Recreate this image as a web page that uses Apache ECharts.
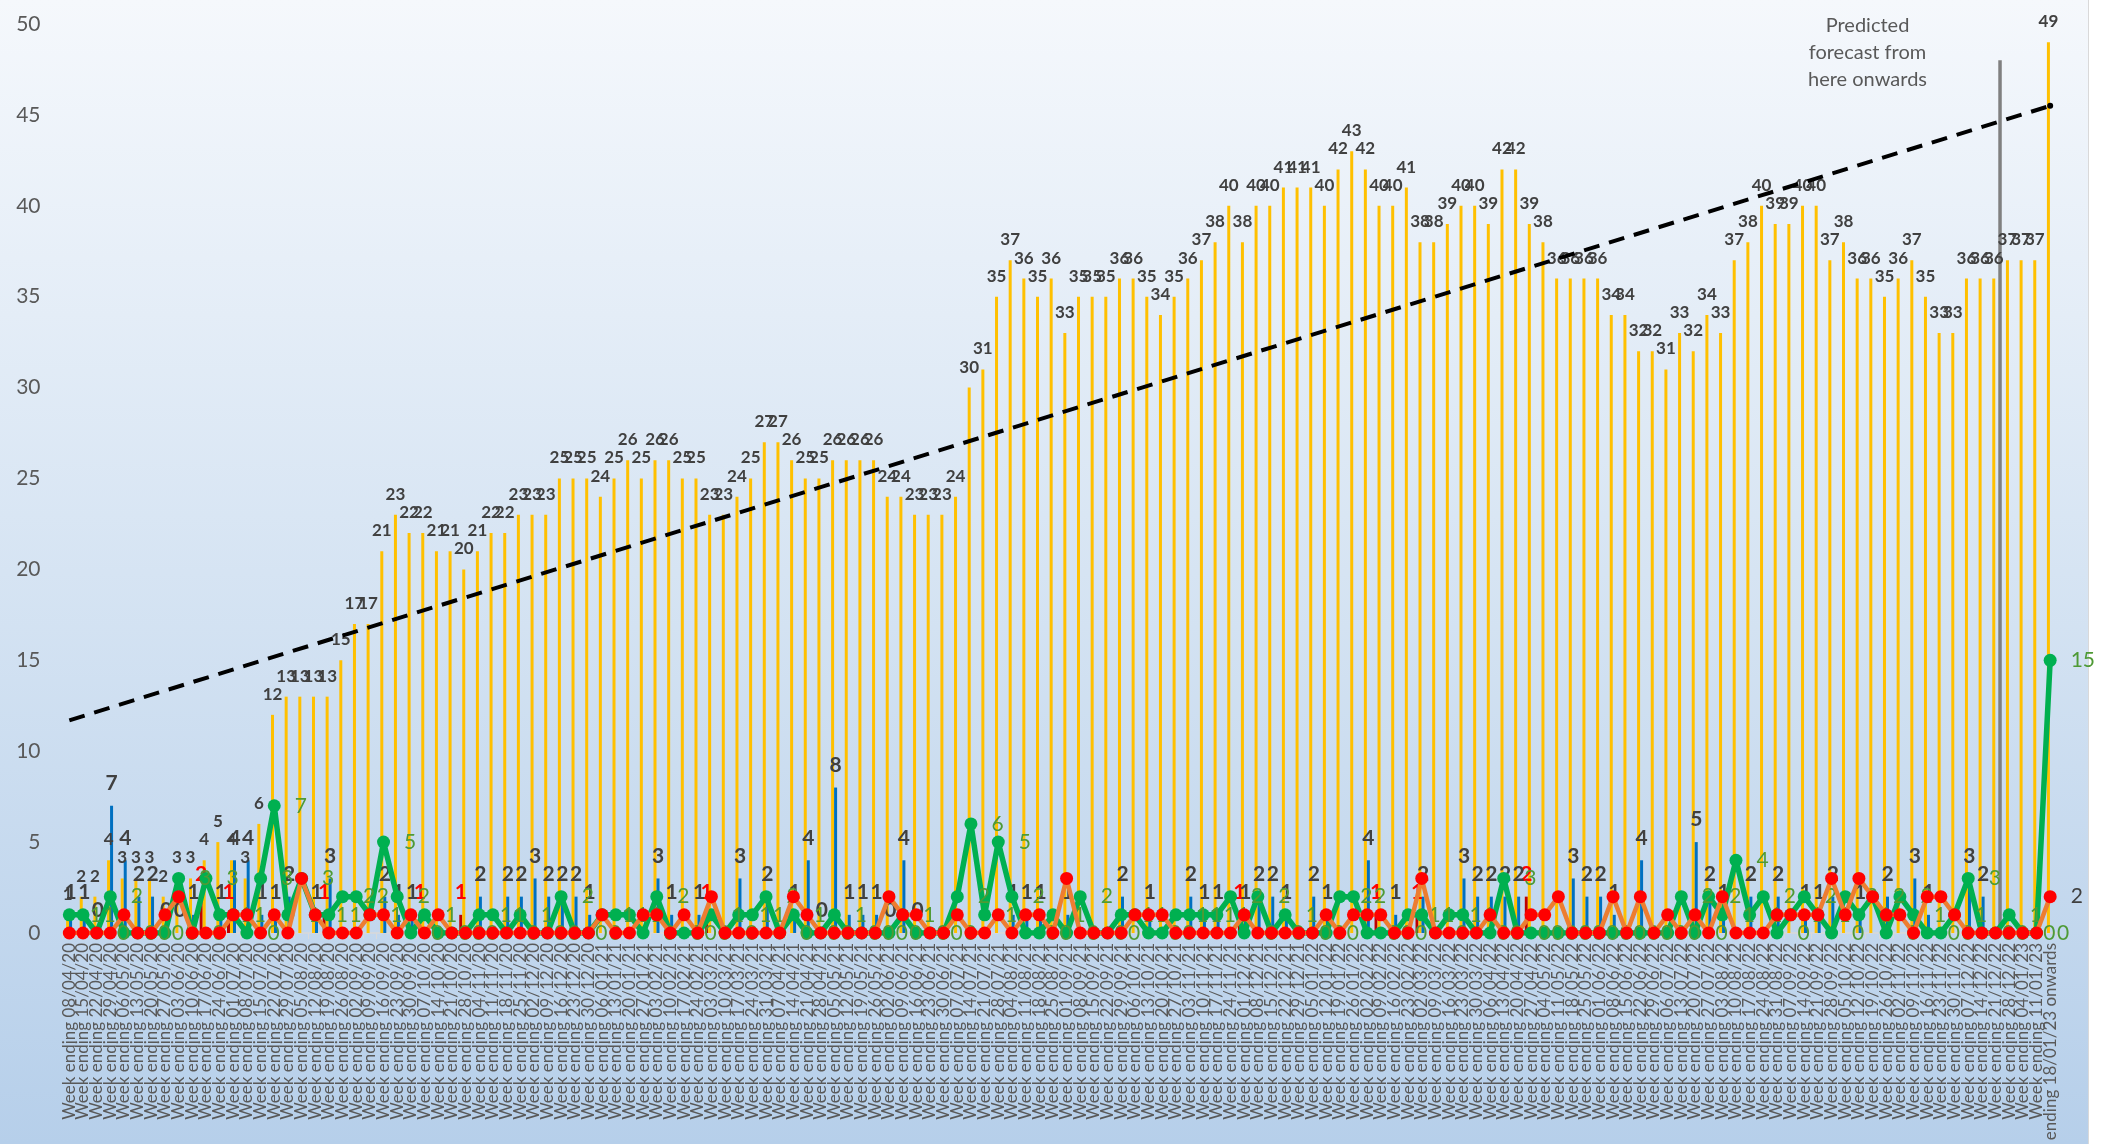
<!DOCTYPE html>
<html><head><meta charset="utf-8">
<script src="https://cdn.jsdelivr.net/npm/echarts/dist/echarts.min.js"></script>
<style>html,body{margin:0;padding:0;background:#fff}#c{width:2101px;height:1144px}</style>
</head><body><div id="c"></div><script>
const categories = [
"Week ending 08/04/20","Week ending 15/04/20","Week ending 22/04/20","Week ending 29/04/20","Week ending 06/05/20","Week ending 13/05/20","Week ending 20/05/20","Week ending 27/05/20","Week ending 03/06/20","Week ending 10/06/20",
"Week ending 17/06/20","Week ending 24/06/20","Week ending 01/07/20","Week ending 08/07/20","Week ending 15/07/20","Week ending 22/07/20","Week ending 29/07/20","Week ending 05/08/20","Week ending 12/08/20","Week ending 19/08/20",
"Week ending 26/08/20","Week ending 02/09/20","Week ending 09/09/20","Week ending 16/09/20","Week ending 23/09/20","Week ending 30/09/20","Week ending 07/10/20","Week ending 14/10/20","Week ending 21/10/20","Week ending 28/10/20",
"Week ending 04/11/20","Week ending 11/11/20","Week ending 18/11/20","Week ending 25/11/20","Week ending 02/12/20","Week ending 09/12/20","Week ending 16/12/20","Week ending 23/12/20","Week ending 30/12/20","Week ending 06/01/21",
"Week ending 13/01/21","Week ending 20/01/21","Week ending 27/01/21","Week ending 03/02/21","Week ending 10/02/21","Week ending 17/02/21","Week ending 24/02/21","Week ending 03/03/21","Week ending 10/03/21","Week ending 17/03/21",
"Week ending 24/03/21","Week ending 31/03/21","Week ending 07/04/21","Week ending 14/04/21","Week ending 21/04/21","Week ending 28/04/21","Week ending 05/05/21","Week ending 12/05/21","Week ending 19/05/21","Week ending 26/05/21",
"Week ending 02/06/21","Week ending 09/06/21","Week ending 16/06/21","Week ending 23/06/21","Week ending 30/06/21","Week ending 07/07/21","Week ending 14/07/21","Week ending 21/07/21","Week ending 28/07/21","Week ending 04/08/21",
"Week ending 11/08/21","Week ending 18/08/21","Week ending 25/08/21","Week ending 01/09/21","Week ending 08/09/21","Week ending 15/09/21","Week ending 22/09/21","Week ending 29/09/21","Week ending 06/10/21","Week ending 13/10/21",
"Week ending 20/10/21","Week ending 27/10/21","Week ending 03/11/21","Week ending 10/11/21","Week ending 17/11/21","Week ending 24/11/21","Week ending 01/12/21","Week ending 08/12/21","Week ending 15/12/21","Week ending 22/12/21",
"Week ending 29/12/21","Week ending 05/01/22","Week ending 12/01/22","Week ending 19/01/22","Week ending 26/01/22","Week ending 02/02/22","Week ending 09/02/22","Week ending 16/02/22","Week ending 23/02/22","Week ending 02/03/22",
"Week ending 09/03/22","Week ending 16/03/22","Week ending 23/03/22","Week ending 30/03/22","Week ending 06/04/22","Week ending 13/04/22","Week ending 20/04/22","Week ending 27/04/22","Week ending 04/05/22","Week ending 11/05/22",
"Week ending 18/05/22","Week ending 25/05/22","Week ending 01/06/22","Week ending 08/06/22","Week ending 15/06/22","Week ending 22/06/22","Week ending 29/06/22","Week ending 06/07/22","Week ending 13/07/22","Week ending 20/07/22",
"Week ending 27/07/22","Week ending 03/08/22","Week ending 10/08/22","Week ending 17/08/22","Week ending 24/08/22","Week ending 31/08/22","Week ending 07/09/22","Week ending 14/09/22","Week ending 21/09/22","Week ending 28/09/22",
"Week ending 05/10/22","Week ending 12/10/22","Week ending 19/10/22","Week ending 26/10/22","Week ending 02/11/22","Week ending 09/11/22","Week ending 16/11/22","Week ending 23/11/22","Week ending 30/11/22","Week ending 07/12/22",
"Week ending 14/12/22","Week ending 21/12/22","Week ending 28/12/22","Week ending 04/01/23","Week ending 11/01/23","Week ending 18/01/23 onwards"
];

const totalBars = [
1,2,2,4,3,3,3,2,3,3,
4,5,4,3,6,12,13,13,13,13,
15,17,17,21,23,22,22,21,21,20,
21,22,22,23,23,23,25,25,25,24,
25,26,25,26,26,25,25,23,23,24,
25,27,27,26,25,25,26,26,26,26,
24,24,23,23,23,24,30,31,35,37,
36,35,36,33,35,35,35,36,36,35,
34,35,36,37,38,40,38,40,40,41,
41,41,40,42,43,42,40,40,41,38,
38,39,40,40,39,42,42,39,38,36,
36,36,36,34,34,32,32,31,33,32,
34,33,37,38,40,39,39,40,40,37,
38,36,36,35,36,37,35,33,33,36,
36,36,37,37,37,49
];

const blueBars = [
1,1,0,7,4,2,2,0,0,1,
null,1,4,4,1,1,2,null,1,3,
null,null,null,2,1,1,null,null,null,null,
2,null,2,2,3,2,2,2,1,null,
null,null,null,3,1,null,1,null,null,3,
null,2,null,1,4,0,8,1,1,1,
0,4,0,null,null,null,null,null,null,1,
1,1,null,1,null,null,null,2,null,1,
null,null,2,1,1,null,1,2,2,1,
null,2,1,null,null,4,null,1,null,2,
null,null,3,2,2,2,2,null,null,null,
3,2,2,1,null,4,null,null,null,5,
2,1,null,2,null,2,null,1,1,2,
null,1,null,2,null,3,1,null,null,3,
2,null,null,null,null,null
];

const darkRedBars = [
null,null,null,null,null,null,null,null,null,null,
2,null,1,null,null,null,null,null,null,1,
null,null,null,null,null,null,1,null,null,1,
null,null,null,null,null,null,null,null,null,null,
null,null,null,null,null,null,null,1,null,null,
null,null,null,null,null,null,null,null,null,null,
null,null,null,null,null,null,null,null,null,null,
null,null,null,null,null,null,null,null,null,null,
null,null,null,null,null,null,1,null,null,null,
null,null,null,null,null,null,1,null,null,1,
null,null,null,null,null,null,null,2,null,null,
null,null,null,null,null,null,null,null,null,null,
null,null,null,null,null,null,null,null,null,null,
null,null,null,null,null,null,null,null,null,null,
null,null,null,null,null,null
];

const forecastMarker = [
null,null,null,null,null,null,null,null,null,null,
null,null,null,null,null,null,null,null,null,null,
null,null,null,null,null,null,null,null,null,null,
null,null,null,null,null,null,null,null,null,null,
null,null,null,null,null,null,null,null,null,null,
null,null,null,null,null,null,null,null,null,null,
null,null,null,null,null,null,null,null,null,null,
null,null,null,null,null,null,null,null,null,null,
null,null,null,null,null,null,null,null,null,null,
null,null,null,null,null,null,null,null,null,null,
null,null,null,null,null,null,null,null,null,null,
null,null,null,null,null,null,null,null,null,null,
null,null,null,null,null,null,null,null,null,null,
null,null,null,null,null,null,null,null,null,null,
null,48,null,null,null,null
];

const greenLine = [
1,1,0,2,0,0,0,0,3,0,
3,1,1,0,3,7,1,3,1,1,
2,2,1,5,2,0,1,0,0,0,
1,1,0,1,0,0,2,0,0,1,
1,1,0,2,0,0,0,1,0,1,
1,2,0,1,0,0,1,0,0,0,
0,1,0,0,0,2,6,1,5,2,
0,0,1,0,2,0,0,1,1,0,
0,1,1,1,1,2,0,2,0,1,
0,0,0,2,2,0,0,0,1,1,
0,1,1,0,0,3,0,0,0,0,
0,0,0,0,0,0,0,0,2,0,
2,1,4,1,2,0,1,2,1,0,
2,1,2,0,2,1,0,0,1,3,
0,0,1,0,0,15
];

const redLine = [
0,0,0,0,1,0,0,1,2,0,
0,0,1,1,0,1,0,3,1,0,
0,0,1,1,0,1,0,1,0,0,
0,0,0,0,0,0,0,0,0,1,
0,0,1,1,0,1,0,2,0,0,
0,0,0,2,1,0,0,0,0,0,
2,1,1,0,0,1,0,0,1,0,
1,1,0,3,0,0,0,0,1,1,
1,0,0,0,0,0,1,0,0,0,
0,0,1,0,1,1,1,0,0,3,
0,0,0,0,1,0,0,1,1,2,
0,0,0,2,0,2,0,1,0,1,
0,2,0,0,0,1,1,1,1,3,
1,3,2,1,1,0,2,2,1,0,
0,0,0,0,0,2
];

const trendEnds = [11.7, 45.5];
const yMin = 0, yMax = 50, yStep = 5;
const noteText = "Predicted\nforecast from\nhere onwards";

const N = categories.length;
const trendData = categories.map((c, i) => i === 0 ? trendEnds[0] : (i === N - 1 ? { value: trendEnds[1], symbolSize: 6 } : null));
const redData = redLine.map((v, i) => i === N - 1 ? { value: v, label: { show: true } } : v);

const FONT = 'Lato';
const chart = echarts.init(document.getElementById('c'), null, { renderer: 'canvas' });
chart.setOption({
  animation: false,
  backgroundColor: '#ffffff',
  textStyle: { fontFamily: FONT },
  graphic: [
    { type: 'rect', z: -100, silent: true, shape: { x: 0, y: 0, width: 2088, height: 1144 },
      style: { fill: new echarts.graphic.LinearGradient(0, 0, 0, 1, [
        { offset: 0, color: '#f5f8fc' }, { offset: 0.5, color: '#d6e4f3' }, { offset: 1, color: '#b6cfea' }]) } },
    { type: 'line', z: -99, silent: true, shape: { x1: 2088.5, y1: 0, x2: 2088.5, y2: 1144 }, style: { stroke: '#d9d9d9', lineWidth: 1 } },
    { type: 'text', z: 10, left: 1808, top: 12, style: { text: noteText, fill: '#595959', font: '20px Lato', textAlign: 'center', lineHeight: 27, x: 59 } }
  ],
  grid: { left: 62.5, right: 44, top: 24, bottom: 211, containLabel: false, outerBoundsMode: 'none' },
  xAxis: {
    type: 'category', data: categories, boundaryGap: true,
    axisLine: { show: true, lineStyle: { color: '#d9d9d9', width: 1.5 } },
    axisTick: { show: true, alignWithLabel: false, length: 6, lineStyle: { color: '#d9d9d9' } },
    axisLabel: { interval: 0, rotate: 90, color: '#595959', fontSize: 17, fontFamily: FONT, margin: 10, hideOverlap: false }
  },
  yAxis: {
    type: 'value', min: yMin, max: yMax, interval: yStep,
    axisLine: { show: false }, axisTick: { show: false }, splitLine: { show: false },
    axisLabel: { color: '#595959', fontSize: 21, fontFamily: FONT, margin: 22 }
  },
  series: [
    { name: 'Leavers', type: 'bar', data: darkRedBars, barWidth: 3, barGap: '0%', z: 2,
      itemStyle: { color: '#c00000' },
      label: { show: true, position: 'top', distance: 12, color: '#ff0000', fontSize: 21, fontWeight: 'bold' } },
    { name: 'Total', type: 'bar', data: totalBars, barWidth: 3, barGap: '0%', z: 2,
      itemStyle: { color: '#ffc000' },
      label: { show: true, position: 'top', distance: 12, color: '#404040', fontSize: 17, fontWeight: 'bold' } },
    { name: 'New', type: 'bar', data: blueBars, barWidth: 3, barGap: '0%', z: 2,
      itemStyle: { color: '#0070c0' },
      label: { show: true, position: 'top', distance: 12, color: '#404040', fontSize: 21, fontWeight: 'bold' } },
    { name: 'Forecast', type: 'bar', data: forecastMarker, barWidth: 3.5, barGap: '0%', z: 2,
      itemStyle: { color: '#808080' }, label: { show: false } },
    { name: 'Trend', type: 'line', data: trendData, connectNulls: true, z: 6,
      symbol: 'circle', symbolSize: 0, showSymbol: true, itemStyle: { color: '#000' },
      lineStyle: { color: '#000', width: 4, type: [16, 10] }, label: { show: false } },
    { name: 'Green', type: 'line', data: greenLine, z: 4,
      symbol: 'circle', symbolSize: 13, showSymbol: true,
      itemStyle: { color: '#00b050' }, lineStyle: { color: '#00b050', width: 5.5 },
      label: { show: true, position: 'right', distance: 14, color: '#4e9a35', fontSize: 21 } },
    { name: 'Red', type: 'line', data: redData, z: 5,
      symbol: 'circle', symbolSize: 13, showSymbol: true,
      itemStyle: { color: '#ff0000' }, lineStyle: { color: '#ed7d31', width: 4.5 },
      label: { show: false, position: 'right', distance: 14, color: '#404040', fontSize: 21 } }
  ]
});
</script></body></html>
